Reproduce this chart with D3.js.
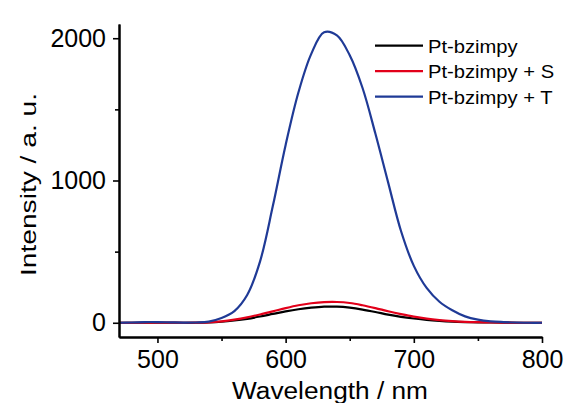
<!DOCTYPE html>
<html>
<head>
<meta charset="utf-8">
<script src="https://cdn.jsdelivr.net/npm/d3@7"></script>
<style>
	body { margin: 0; background: #fff; }
	svg { display: block; font-family: "Liberation Sans", Arial, sans-serif; }
</style>
</head>
<body>
<svg id="svg" width="567" height="403"></svg>
<script>
"use strict";

// wavelengths (nm), every 10 nm
const wavelength = d3.range(470, 801, 10);

// emission intensity
const ptBzimpy = [
	0, 0, 0, 0, 0, 0, 0, 2, 7, 16, 28, 44, 62, 80, 95, 106, 113, 113, 106,
	93, 76, 57, 42, 30, 20, 13, 8, 5, 3, 2, 1, 0, 0, 0,
];
const ptBzimpyS = [
	0, 0, 1, 1, 1, 0, 1, 3, 10, 22, 38, 58, 80, 103, 123, 137, 145, 146, 139,
	123, 103, 81, 61, 43, 29, 19, 12, 7, 4, 2, 1, 0, 0, 0,
];
const ptBzimpyT = [
	0, 2, 5, 5, 3, 1, 2, 8, 33, 82, 195, 430, 820, 1250, 1620, 1890, 2042,
	2020, 1880, 1650, 1330, 985, 645, 400, 245, 148, 88, 45, 22, 10, 5, 2, 0, 0,
];

const seriesNames = ["Pt-bzimpy", "Pt-bzimpy + S", "Pt-bzimpy + T"];
const seriesColors = ["#000000", "#e2001a", "#1f3a96"];
const seriesValues = [ptBzimpy, ptBzimpyS, ptBzimpyT];

const xMajor = [500, 600, 700, 800];
const xMinor = [550, 650, 750];
const yMajor = [0, 1000, 2000];
const yMinor = [500, 1500];

const svg = d3.select("#svg");

const x = d3.scaleLinear().domain([470, 800]).range([119, 542]);
const y = d3.scaleLinear().domain([-100, 2100]).range([337, 24]);

// spectra
const line = d3
	.line()
	.x((d) => x(d[0]))
	.y((d) => y(d[1]))
	.curve(d3.curveCatmullRom.alpha(0.5));

svg.append("g")
	.attr("id", "spectra")
	.selectAll("path")
	.data(seriesValues)
	.enter()
	.append("path")
	.attr("d", (vals) => line(wavelength.map((w, i) => [w, vals[i]])))
	.attr("fill", "none")
	.attr("stroke", (d, i) => seriesColors[i])
	.attr("stroke-width", 2.2);

// axes (major ticks with labels, minor ticks without)
svg.append("g")
	.attr("transform", `translate(0,${y.range()[0]})`)
	.call(d3.axisBottom(x).tickValues(xMajor).tickSize(6).tickSizeOuter(0).tickPadding(7));
svg.append("g")
	.attr("transform", `translate(0,${y.range()[0]})`)
	.call(d3.axisBottom(x).tickValues(xMinor).tickSize(4).tickSizeOuter(0).tickFormat(""));

svg.append("g")
	.attr("transform", `translate(${x.range()[0]},0)`)
	.call(
		d3.axisLeft(y).tickValues(yMajor).tickFormat(d3.format("d"))
			.tickSize(6).tickSizeOuter(0).tickPadding(7)
	);
svg.append("g")
	.attr("transform", `translate(${x.range()[0]},0)`)
	.call(d3.axisLeft(y).tickValues(yMinor).tickSize(4).tickSizeOuter(0).tickFormat(""));

svg.selectAll(".domain").attr("stroke", "#000").attr("stroke-width", 2);
svg.selectAll(".tick line").attr("stroke", "#000").attr("stroke-width", 1.6);
svg.selectAll(".tick text")
	.attr("fill", "#000")
	.style("font-family", "'Liberation Sans', Arial, sans-serif")
	.style("font-size", "25px");

// axis titles (stretched like the original)
svg.append("text")
	.attr("x", 232)
	.attr("y", 399)
	.attr("textLength", 196)
	.attr("lengthAdjust", "spacingAndGlyphs")
	.style("font-size", "23px")
	.text("Wavelength / nm");

svg.append("text")
	.attr("transform", `translate(36,276) rotate(-90)`)
	.attr("textLength", 183)
	.attr("lengthAdjust", "spacingAndGlyphs")
	.style("font-size", "22px")
	.text("Intensity / a. u.");

// legend
const legend = svg
	.append("g")
	.selectAll(".legendItem")
	.data(seriesNames)
	.enter()
	.append("g")
	.attr("class", "legendItem")
	.attr("transform", (d, i) => `translate(375,${45.7 + i * 25.5})`);

legend.append("line")
	.attr("x1", 0)
	.attr("x2", 48)
	.attr("stroke", (d, i) => seriesColors[i])
	.attr("stroke-width", 2.2);

legend.append("text")
	.attr("transform", "translate(53,7) scale(1.14,1)")
	.style("font-size", "17.7px")
	.text((d) => d);
</script>
</body>
</html>
